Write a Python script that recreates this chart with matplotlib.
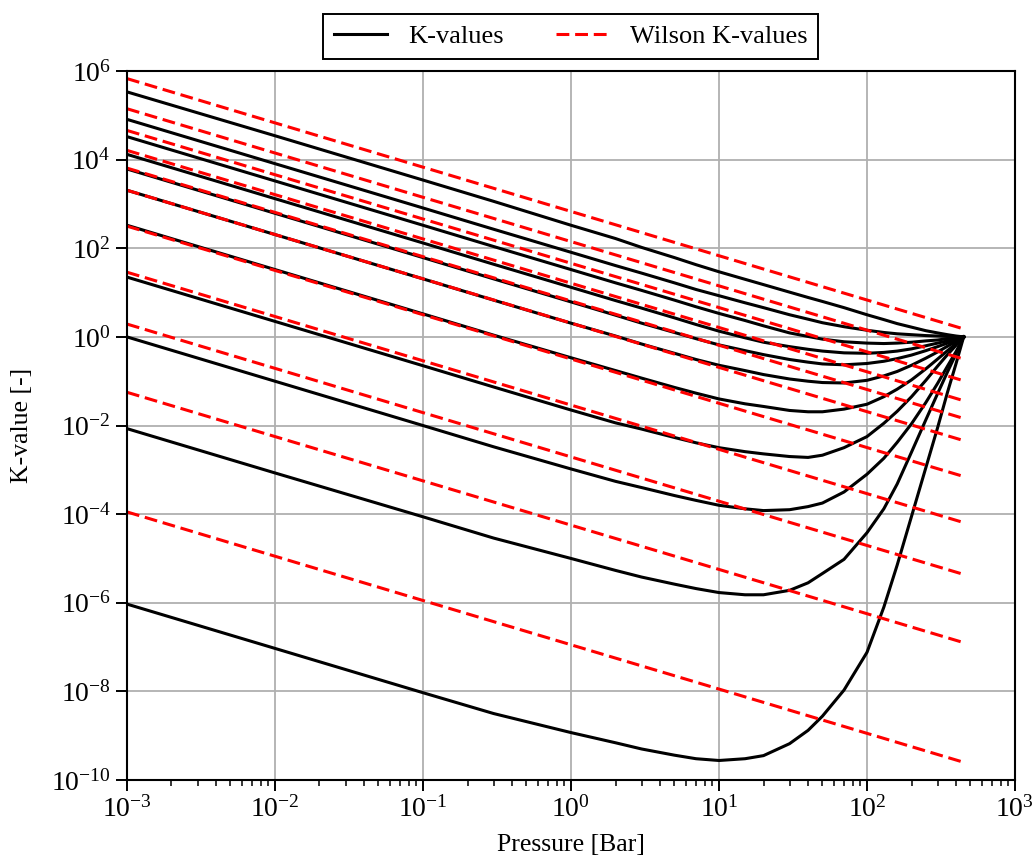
import numpy as np
import matplotlib
matplotlib.use("Agg")
import matplotlib.pyplot as plt

plt.rcParams['font.family'] = ['Liberation Serif', 'DejaVu Serif']
plt.rcParams['mathtext.fontset'] = 'stix'

# pressure grid [bar] where the K-values were taken
pressure = [1e-3, 1e-2, 1e-1, 0.3, 1, 2, 3, 5, 7, 10, 15, 20, 30, 40, 50, 70,
            100, 130, 160, 200, 250, 300, 350, 400, 450]

# log10 of the K-values for each component (lightest first)
logk_1 = [5.53, 4.54, 3.54, 3.06, 2.52, 2.22, 2.02, 1.79, 1.63, 1.47, 1.30, 1.18, 1.01,
          0.89, 0.80, 0.66, 0.50, 0.39, 0.30, 0.22, 0.14, 0.09, 0.05, 0.02, 0.0]
logk_2 = [4.91, 3.91, 2.91, 2.43, 1.91, 1.61, 1.44, 1.22, 1.07, 0.93, 0.77, 0.66, 0.50,
          0.40, 0.32, 0.23, 0.15, 0.10, 0.07, 0.05, 0.03, 0.02, 0.01, 0.005, 0.0]
logk_3 = [4.52, 3.52, 2.52, 2.04, 1.52, 1.22, 1.05, 0.83, 0.68, 0.53, 0.37, 0.25, 0.09,
          0.01, -0.05, -0.11, -0.14, -0.15, -0.14, -0.12, -0.09, -0.07, -0.04, -0.02, 0.0]
logk_4 = [4.12, 3.12, 2.12, 1.64, 1.12, 0.82, 0.65, 0.43, 0.28, 0.13, -0.02, -0.12, -0.22,
          -0.28, -0.32, -0.36, -0.37, -0.35, -0.32, -0.27, -0.20, -0.14, -0.09, -0.045, 0.0]
logk_5 = [3.79, 2.79, 1.79, 1.31, 0.79, 0.49, 0.31, 0.10, -0.04, -0.18, -0.31, -0.40, -0.51,
          -0.57, -0.61, -0.63, -0.60, -0.55, -0.49, -0.41, -0.31, -0.22, -0.14, -0.07, 0.0]
logk_6 = [3.31, 2.31, 1.31, 0.83, 0.31, 0.02, -0.16, -0.37, -0.51, -0.64, -0.76, -0.85, -0.95,
          -1.00, -1.03, -1.04, -0.98, -0.88, -0.78, -0.64, -0.48, -0.34, -0.21, -0.10, 0.0]
logk_7 = [2.52, 1.52, 0.52, 0.04, -0.47, -0.76, -0.93, -1.14, -1.27, -1.40, -1.51, -1.57, -1.66,
          -1.69, -1.69, -1.63, -1.52, -1.35, -1.18, -0.97, -0.72, -0.50, -0.31, -0.15, 0.0]
logk_8 = [1.35, 0.35, -0.65, -1.13, -1.65, -1.94, -2.08, -2.27, -2.39, -2.50, -2.59, -2.64, -2.70,
          -2.72, -2.67, -2.50, -2.25, -1.95, -1.68, -1.35, -0.98, -0.66, -0.40, -0.19, 0.0]
logk_9 = [0.0, -1.0, -2.0, -2.48, -2.98, -3.26, -3.40, -3.58, -3.69, -3.80, -3.88, -3.92, -3.90,
          -3.83, -3.75, -3.50, -3.10, -2.74, -2.38, -1.96, -1.48, -1.05, -0.66, -0.33, 0.0]
logk_10 = [-2.07, -3.07, -4.06, -4.54, -5.0, -5.27, -5.42, -5.58, -5.68, -5.77, -5.82, -5.82, -5.72,
           -5.55, -5.34, -5.02, -4.42, -3.88, -3.32, -2.60, -1.87, -1.28, -0.79, -0.38, 0.0]
logk_11 = [-6.03, -7.03, -8.03, -8.50, -8.93, -9.16, -9.30, -9.44, -9.52, -9.56, -9.52, -9.45, -9.18,
           -8.88, -8.56, -7.97, -7.12, -6.10, -5.15, -4.05, -2.95, -2.05, -1.25, -0.60, 0.0]
logk_all = [logk_1, logk_2, logk_3, logk_4, logk_5, logk_6, logk_7, logk_8, logk_9, logk_10, logk_11]

# Wilson correlation: straight lines, given at both ends of the pressure range
wilson_p = [1e-3, 450]
wilson_logk_lo = [5.83, 5.15, 4.66, 4.21, 3.81, 3.31, 2.50, 1.46, 0.29, -1.25, -3.95]
wilson_logk_hi = [0.18, -0.50, -0.99, -1.44, -1.84, -2.34, -3.15, -4.19, -5.36, -6.90, -9.60]

fig = plt.figure(figsize=(10.32, 8.56), dpi=100)
ax = fig.add_axes([0.123, 0.0888, 0.8605, 0.8282])

for i, lk in enumerate(logk_all):
    ax.plot(pressure, 10**np.array(lk), color='black', lw=2.2,
            label='K-values' if i == 0 else None)
for i in range(len(wilson_logk_lo)):
    k = 10**np.array([wilson_logk_lo[i], wilson_logk_hi[i]])
    ax.plot(wilson_p, k, color='red', ls=(0, (4.2, 1.9)), lw=2.2,
            label='Wilson K-values' if i == 0 else None)

ax.set_xscale('log')
ax.set_yscale('log')
ax.set_xlim(1e-3, 1e3)
ax.set_ylim(1e-10, 1e6)
ax.grid(True, which='major', color='#b0b0b0', lw=1.3)
ax.set_xlabel('Pressure [Bar]', fontsize=18.5, labelpad=8)
ax.set_ylabel('K-value [-]', fontsize=18.5, labelpad=13)
ax.tick_params(labelsize=20, width=1.4, length=8)
ax.tick_params(which='minor', width=1.1, length=4.5)
for s in ax.spines.values():
    s.set_linewidth(1.5)

leg = ax.legend(loc='lower center', bbox_to_anchor=(0.5, 1.01), ncol=2,
                fontsize=19, fancybox=False, edgecolor='black', framealpha=1,
                borderaxespad=0.2, columnspacing=2.0)
leg.get_frame().set_linewidth(1.4)

fig.savefig('out.png', dpi=100)
